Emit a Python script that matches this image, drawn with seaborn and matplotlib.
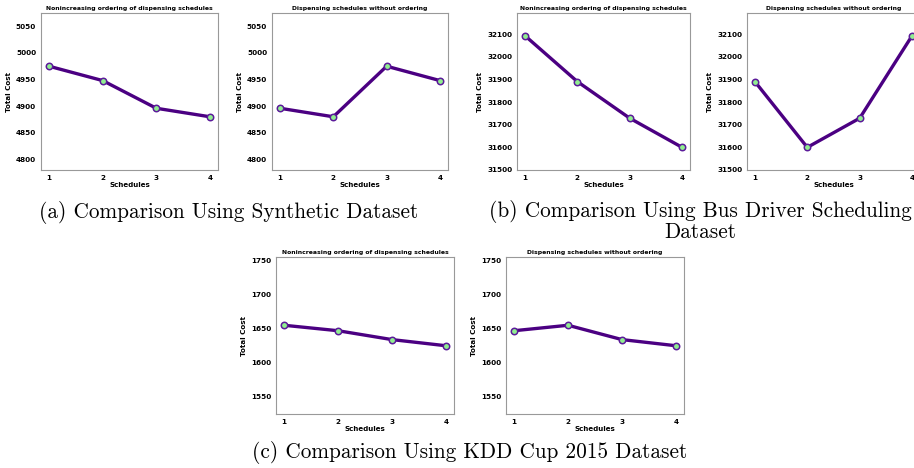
import pandas as pd
import matplotlib
matplotlib.use('Agg')
import matplotlib.pyplot as plt
import seaborn as sns

# schedules on the x axis
schedules = [1, 2, 3, 4]

# total cost per dataset
synthetic_sorted = [4975, 4948, 4896, 4880]
synthetic_unsorted = [4896, 4880, 4975, 4948]
bus_sorted = [32094, 31891, 31729, 31600]
bus_unsorted = [31891, 31600, 31729, 32094]
kdd_sorted = [1655, 1647, 1634, 1625]
kdd_unsorted = [1647, 1655, 1634, 1625]

title_sorted = 'Nonincreasing ordering of dispensing schedules'
title_unsorted = 'Dispensing schedules without ordering'

captions = ['(a) Comparison Using Synthetic Dataset',
            '(b) Comparison Using Bus Driver Scheduling\nDataset',
            '(c) Comparison Using KDD Cup 2015 Dataset']

W, H = 914, 468


def plot_cost(fig, rect, costs, title):
    # rect in pixels: left, top, right, bottom
    l, t, r, b = rect
    ax = fig.add_axes([l / W, 1 - b / H, (r - l) / W, (b - t) / H])
    df = pd.DataFrame({'Schedules': schedules, 'Total Cost': costs})
    sns.lineplot(ax=ax, data=df, x='Schedules', y='Total Cost', color='#4B0082',
                 linewidth=2.4, marker='o', markersize=4.6, markerfacecolor='#90EE90',
                 markeredgecolor='#5B1A9A', markeredgewidth=1.1)
    ax.set_ylim(min(costs) - 100, max(costs) + 100)
    ax.set_xticks(schedules)
    ax.set_title(title, fontsize=4.4, fontweight='bold', pad=2, color='black')
    ax.set_xlabel('Schedules', fontsize=5.1, fontweight='bold', labelpad=1, color='black')
    ax.set_ylabel('Total Cost', fontsize=5.1, fontweight='bold', labelpad=3, color='black')
    ax.tick_params(labelsize=5.2, length=2, width=0.6, pad=1.5, colors='#999999',
                   labelcolor='black')
    for lab in ax.get_xticklabels() + ax.get_yticklabels():
        lab.set_fontweight('bold')
    for sp in ax.spines.values():
        sp.set_color('#999999')
        sp.set_linewidth(0.8)
    return ax


def main():
    sns.set_style('white')
    plt.rcParams['font.family'] = ['DejaVu Sans']
    plt.rcParams['text.color'] = 'black'
    fig = plt.figure(figsize=(W / 100, H / 100), dpi=100)

    plot_cost(fig, (41, 13, 218, 170), synthetic_sorted, title_sorted)
    plot_cost(fig, (272, 13, 448, 170), synthetic_unsorted, title_unsorted)
    plot_cost(fig, (517, 13, 690, 170), bus_sorted, title_sorted)
    plot_cost(fig, (747, 13, 920, 170), bus_unsorted, title_unsorted)
    plot_cost(fig, (276, 257, 454, 414), kdd_sorted, title_sorted)
    plot_cost(fig, (506, 257, 684, 414), kdd_unsorted, title_unsorted)

    cap_kw = dict(fontsize=15.3, family='cmr10', ha='center', color='black')
    fig.text(229 / W, 1 - 218 / H, captions[0], va='baseline', **cap_kw)
    fig.text(700 / W, 1 - 200 / H, captions[1], va='top', linespacing=0.95,
             multialignment='center', **cap_kw)
    fig.text(470 / W, 1 - 458 / H, captions[2], va='baseline', **cap_kw)

    fig.savefig('out.png', dpi=100)


if __name__ == "__main__":
    main()
